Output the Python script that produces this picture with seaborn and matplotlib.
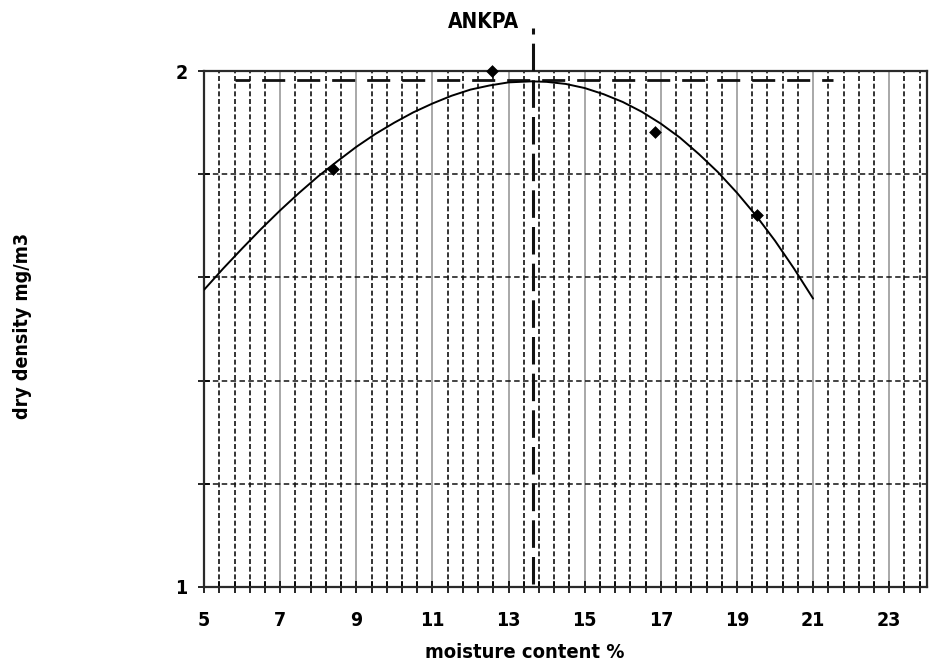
import matplotlib
matplotlib.use('Agg')
import matplotlib.pyplot as plt
from matplotlib import font_manager
from matplotlib.ticker import FixedLocator
import seaborn as sns
import numpy as np
import pandas as pd


# measured points (moisture %, dry density)
moisture = [8.38, 12.56, 16.85, 19.53]
density = [1.811, 2.000, 1.882, 1.721]

# compaction curve
curve_x = [5.0, 5.5, 6.0, 6.5, 7.0, 7.5, 8.0, 8.5, 9.0, 9.5, 10.0, 10.5,
           11.0, 11.5, 12.0, 12.5, 13.0, 13.6, 14.0, 14.5, 15.0, 15.5,
           16.0, 16.5, 17.0, 17.5, 18.0, 18.5, 19.0, 19.5, 20.0, 20.5, 21.0]
curve_y = [1.576, 1.617, 1.656, 1.694, 1.730, 1.764, 1.796, 1.825, 1.853, 1.878,
           1.900, 1.920, 1.937, 1.952, 1.964, 1.972, 1.978, 1.980, 1.979, 1.975,
           1.967, 1.955, 1.940, 1.921, 1.898, 1.871, 1.839, 1.804, 1.764, 1.720,
           1.671, 1.617, 1.559]

# max dry density / optimum moisture content guides
mdd_value = 1.982
mdd_from, mdd_to = 5.8, 21.53
omc_value = 13.63

x_major = [5, 7, 9, 11, 13, 15, 17, 19, 21, 23]
x_labels = ['5', '7', '9', '11', '13', '15', '17', '19', '21', '23']
y_ticks = [1.0, 1.2, 1.4, 1.6, 1.8, 2.0]
y_labels = ['1', '', '', '', '', '2']

title = 'ANKPA'
x_title = 'moisture content %'
y_title = 'dry density mg/m3'


sns.set_style('white')

# the reference uses a narrow bold face; pick whatever condensed font exists
fonts = [(f.name, f.stretch) for f in font_manager.fontManager.ttflist]
if any(n == 'Liberation Sans Narrow' for n, s in fonts):
    plt.rcParams['font.family'] = ['Liberation Sans Narrow', 'DejaVu Sans']
elif any(n == 'DejaVu Sans' and str(s) == 'condensed' for n, s in fonts):
    plt.rcParams['font.family'] = ['DejaVu Sans']
    plt.rcParams['font.stretch'] = 'condensed'
else:
    plt.rcParams['font.family'] = ['Liberation Sans', 'DejaVu Sans']
plt.rcParams['text.color'] = 'black'
plt.rcParams['xtick.color'] = 'black'
plt.rcParams['ytick.color'] = 'black'
plt.rcParams['axes.labelcolor'] = 'black'

fig = plt.figure(figsize = (9.36, 6.65), dpi = 100)
ax = fig.add_axes([0.218, 0.1173, 0.7727, 0.7759])

ax.set_xlim(5, 24)
ax.set_ylim(1, 2)

# grid: solid grey every 2 %, dashed black every 0.4 %, dashed black every 0.2 in y
ax.xaxis.set_major_locator(FixedLocator(x_major))
ax.xaxis.set_minor_locator(FixedLocator(np.arange(5, 24.01, 0.4)))
ax.yaxis.set_major_locator(FixedLocator(y_ticks))
ax.set_xticklabels(x_labels)
ax.set_yticklabels(y_labels)

ax.xaxis.grid(True, which = 'major', color = '#9a9a9a', ls = '-', lw = 1.2)
ax.xaxis.grid(True, which = 'minor', color = '#111111', ls = (0, (3, 1.6)), lw = 1.2)
ax.yaxis.grid(True, which = 'major', color = '#111111', ls = (0, (3.6, 2.2)), lw = 1.1)
ax.set_axisbelow(True)

ax.tick_params(axis = 'x', which = 'both', direction = 'inout', length = 8, width = 1.2,
               color = 'black', bottom = True)
ax.tick_params(axis = 'x', which = 'major', labelsize = 14, pad = 13)
ax.tick_params(axis = 'y', which = 'major', direction = 'inout', length = 8, width = 1.2,
               color = 'black', left = True, labelsize = 14, pad = 8)
for lab in ax.get_xticklabels() + ax.get_yticklabels():
    lab.set_fontweight('bold')

for side in ['left', 'bottom', 'top', 'right']:
    ax.spines[side].set_visible(True)
    ax.spines[side].set_color('#2a2a2a')
    ax.spines[side].set_linewidth(1.6)

# guide lines
ax.hlines(mdd_value, mdd_from, mdd_to, color = '#111111', lw = 2.0,
          linestyles = [(3, (8.3, 4.3))], zorder = 3)
ax.axvline(omc_value, ymin = 0.005, ymax = 1.083, color = '#111111', lw = 2.2,
           ls = (0, (9, 3)), clip_on = False, zorder = 3)

# curve and measured points
df_curve = pd.DataFrame({'x': curve_x, 'y': curve_y})
sns.lineplot(data = df_curve, x = 'x', y = 'y', color = 'black', lw = 1.4,
             sort = False, ax = ax, zorder = 4)
df_pts = pd.DataFrame({'x': moisture, 'y': density})
sns.scatterplot(data = df_pts, x = 'x', y = 'y', marker = 'D', s = 36, color = 'black',
                edgecolor = 'black', ax = ax, zorder = 5, clip_on = False)

ax.set_xlabel(x_title, fontsize = 14.5, fontweight = 'bold')
ax.xaxis.set_label_coords(0.444, -0.126)
ax.xaxis.label.set_va('center')

ax.set_ylabel(y_title, fontsize = 14, fontweight = 'bold')
ax.yaxis.set_label_coords(-0.2516, 0.506)
ax.yaxis.label.set_va('center')

fig.text(483 / 936, 1 - 21.7 / 665, title, ha = 'center', va = 'center',
         fontsize = 15, fontweight = 'bold')

fig.savefig('out.png', dpi = 100)
plt.close(fig)
